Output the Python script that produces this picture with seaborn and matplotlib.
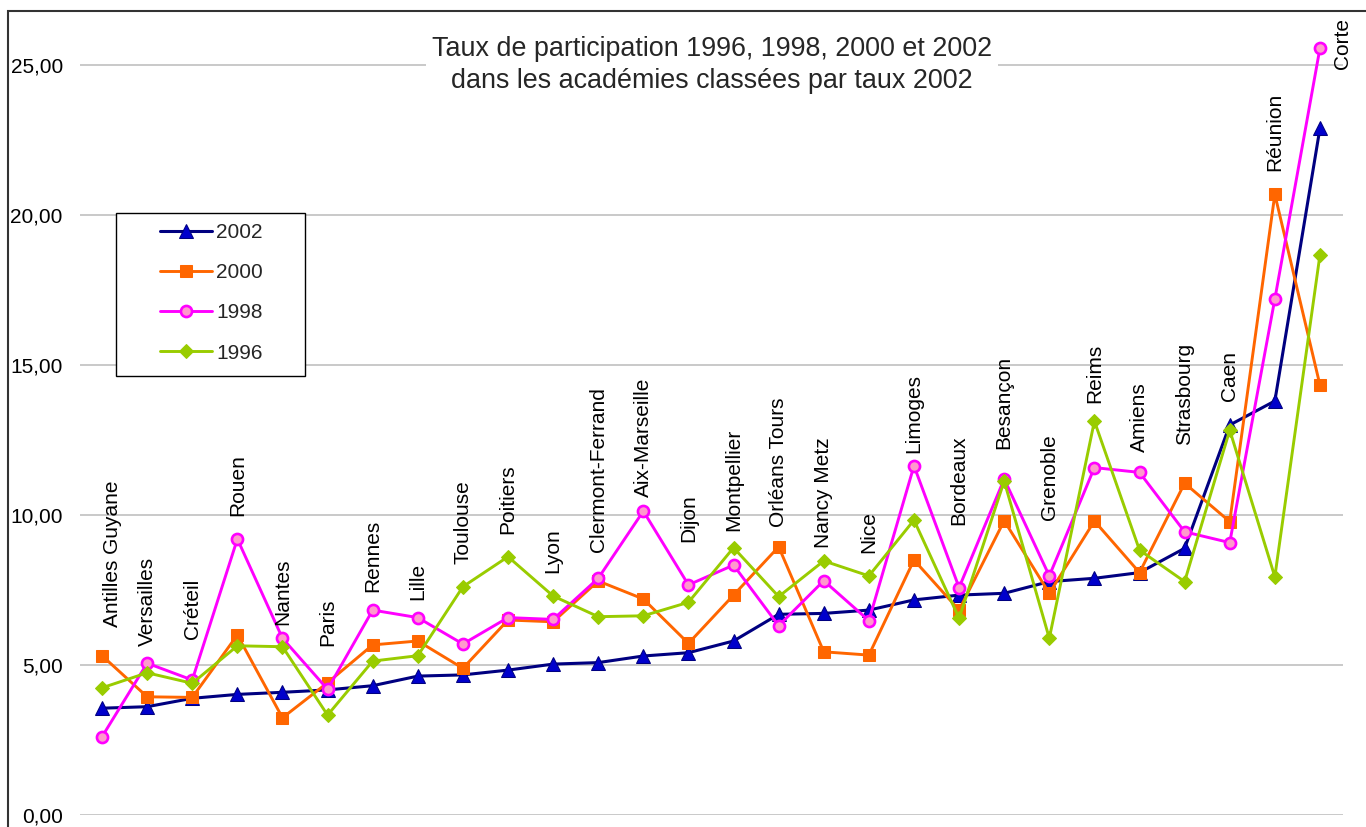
import numpy as np
import matplotlib
matplotlib.use("Agg")
import matplotlib.pyplot as plt
from matplotlib.patches import Rectangle
from matplotlib.ticker import FuncFormatter
import seaborn as sns

academies = [
    "Antilles Guyane", "Versailles", "Créteil", "Rouen", "Nantes", "Paris",
    "Rennes", "Lille", "Toulouse", "Poitiers", "Lyon", "Clermont-Ferrand",
    "Aix-Marseille", "Dijon", "Montpellier", "Orléans Tours", "Nancy Metz",
    "Nice", "Limoges", "Bordeaux", "Besançon", "Grenoble", "Reims", "Amiens",
    "Strasbourg", "Caen", "Réunion", "Corte",
]

taux_2002 = [3.56, 3.61, 3.89, 4.02, 4.09, 4.17, 4.31, 4.63, 4.67, 4.83, 5.03, 5.08,
             5.30, 5.41, 5.80, 6.69, 6.72, 6.83, 7.17, 7.33, 7.39, 7.78, 7.89, 8.08,
             8.89, 13.00, 13.80, 22.89]
taux_2000 = [5.31, 3.94, 3.92, 6.00, 3.24, 4.41, 5.67, 5.80, 4.89, 6.50, 6.44, 7.80,
             7.20, 5.72, 7.33, 8.94, 5.44, 5.33, 8.50, 6.83, 9.81, 7.39, 9.80, 8.08,
             11.06, 9.78, 20.69, 14.33]
taux_1998 = [2.61, 5.06, 4.50, 9.20, 5.89, 4.19, 6.83, 6.58, 5.70, 6.58, 6.52, 7.89,
             10.13, 7.67, 8.33, 6.31, 7.81, 6.48, 11.64, 7.58, 11.20, 7.97, 11.58, 11.42,
             9.44, 9.08, 17.20, 25.56]
taux_1996 = [4.24, 4.74, 4.39, 5.64, 5.61, 3.33, 5.13, 5.31, 7.61, 8.61, 7.30, 6.61,
             6.64, 7.09, 8.91, 7.28, 8.47, 7.97, 9.83, 6.56, 11.13, 5.89, 13.13, 8.83,
             7.78, 12.83, 7.94, 18.67]

# where each academy name starts (data units)
label_base = [6.28, 5.64, 5.87, 9.97, 6.33, 5.64, 7.44, 7.17, 8.37, 9.36, 8.08, 8.78,
              10.61, 9.11, 9.48, 9.61, 8.89, 8.74, 12.08, 9.67, 12.20, 9.83, 13.74, 12.09,
              12.33, 13.81, 21.48, 24.87]

W, H = 1366, 827
sns.set_theme(style="white")
plt.rcParams["font.family"] = ["Liberation Sans", "DejaVu Sans"]

fig = plt.figure(figsize=(W / 100, H / 100), dpi=100)
ax = fig.add_axes([79.5 / W, (H - 815) / H, (1342.5 - 79.5) / W, (815 - 11) / H])

x = np.arange(len(academies))
series = [
    ("2002", taux_2002, dict(color="#000080", marker="^", markersize=9.5,
                             markerfacecolor="#0000CC", markeredgecolor="#000080", lw=2.2)),
    ("2000", taux_2000, dict(color="#FF6600", marker="s", markersize=8.5,
                             markerfacecolor="#FF6600", markeredgecolor="#FF6600", lw=2.1)),
    ("1998", taux_1998, dict(color="#FF00FF", marker="o", markersize=8,
                             markerfacecolor="#FF99CC", markeredgecolor="#FF00FF",
                             markeredgewidth=1.9, lw=2.1)),
    ("1996", taux_1996, dict(color="#99CC00", marker="D", markersize=7.5,
                             markerfacecolor="#99CC00", markeredgecolor="#99CC00", lw=2.1)),
]
for i, (name, vals, kw) in enumerate(series):
    sns.lineplot(x=x, y=vals, label=name, ax=ax, zorder=3 + i * 0.1, **kw)

ax.set_xlim(-0.5, 27.5)
ax.set_ylim(0, (815 - 11) / 30)
ax.set_yticks([0, 5, 10, 15, 20, 25])
ax.yaxis.set_major_formatter(FuncFormatter(lambda v, p: f"{v:.2f}".replace(".", ",")))
ax.set_xticks([])
ax.tick_params(axis="y", length=0, pad=12, labelsize=15, labelcolor="black")
ax.grid(axis="y", color="#C0C0C0", lw=1.2)
ax.set_axisbelow(True)
for s in ax.spines.values():
    s.set_visible(False)
ax.set_xlabel("")
ax.set_ylabel("")

# academy names above the points
shifts = {0: 10, 27: 23}
for i, (name, base) in enumerate(zip(academies, label_base)):
    ax.annotate(name, (x[i], base), xytext=(shifts.get(i, 0) * 0.72, 0),
                textcoords="offset points", rotation=90, ha="center", va="bottom",
                fontsize=15, color="black", annotation_clip=False, zorder=6)

# legend with its own frame
ax.add_patch(Rectangle((116 / W, 1 - 376 / H), 189 / W, 163 / H, transform=fig.transFigure,
                       facecolor="white", edgecolor="black", lw=1, zorder=4, clip_on=False))
ax.legend(loc="upper left", bbox_to_anchor=(160 / W, 1 - 223 / H),
          bbox_transform=fig.transFigure, frameon=False, fontsize=15,
          borderpad=0, borderaxespad=0, handlelength=2.5, handletextpad=0.2,
          labelspacing=1.02).set_zorder(5)

fig.text(712 / W, 1 - 65 / H,
         "Taux de participation 1996, 1998, 2000 et 2002\ndans les académies classées par taux 2002",
         ha="center", va="center", fontsize=19.4, linespacing=1.25, zorder=5,
         bbox=dict(facecolor="white", edgecolor="none", pad=4))

# outer chart border (only top and left visible)
fig.add_artist(Rectangle((8 / W, -0.5), 2.0, 1.5 - 11 / H, transform=fig.transFigure,
                         facecolor="none", edgecolor="#333333", lw=1.5))

fig.savefig("out.png", dpi=100)
